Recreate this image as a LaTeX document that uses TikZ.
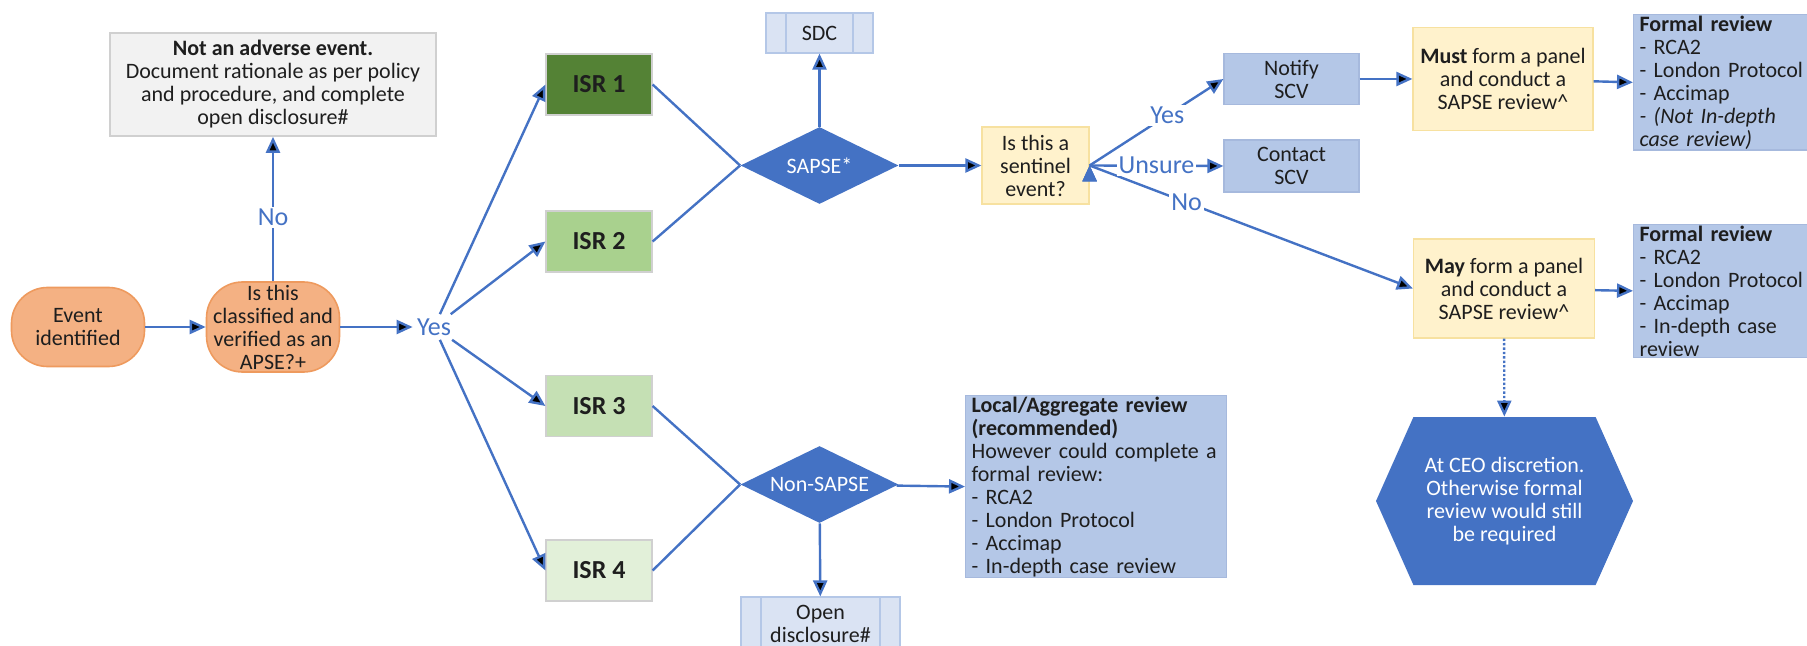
\documentclass[tikz,border=0pt]{standalone}
\usepackage{fontspec}
\setmainfont{Carlito}
\usetikzlibrary{arrows.meta,shapes.geometric,shapes.symbols}

\definecolor{flowblue}{HTML}{4472C4}
\definecolor{orangefill}{HTML}{F4B183}
\definecolor{orangeline}{HTML}{EE9A5E}
\definecolor{greyfill}{HTML}{F2F2F2}
\definecolor{greyline}{HTML}{D0D0D0}
\definecolor{isrone}{HTML}{548235}
\definecolor{isrtwo}{HTML}{A9D18E}
\definecolor{isrthree}{HTML}{C5E0B4}
\definecolor{isrfour}{HTML}{E2F0D9}
\definecolor{procfill}{HTML}{DAE3F3}
\definecolor{procline}{HTML}{B4C7E7}
\definecolor{yellowfill}{HTML}{FFF2CC}
\definecolor{yellowline}{HTML}{F7E1A0}
\definecolor{bluefill}{HTML}{B4C7E7}
\definecolor{blueline}{HTML}{A6B9DD}
\definecolor{txtdark}{HTML}{1E1E1E}

\begin{document}
\begin{tikzpicture}[x=0.5pt, y=-0.5pt,
	every node/.style={text=txtdark, inner sep=1pt, align=center, font=\fontsize{11}{11.5}\selectfont},
	startbox/.style={shape=rectangle, rounded corners=18pt, fill=orangefill, draw=orangeline, line width=0.8pt, minimum width=66.5pt},
	notebox/.style={shape=rectangle, fill=greyfill, draw=greyline, line width=0.8pt, minimum width=163pt, minimum height=51.5pt},
	isrbox/.style={shape=rectangle, draw=greyline, line width=0.6pt, minimum width=53pt, minimum height=30.5pt, font=\fontsize{13}{14}\selectfont\bfseries},
	decide/.style={shape=diamond, aspect=2, inner sep=0pt, fill=flowblue, text=white, minimum width=79pt, minimum height=38.5pt},
	subproc/.style={shape=rectangle, fill=procfill, draw=procline, line width=0.6pt, minimum width=53.5pt,
		path picture={\draw[procline, line width=0.6pt]
			([xshift=10pt]path picture bounding box.north west) -- ([xshift=10pt]path picture bounding box.south west)
			([xshift=-10pt]path picture bounding box.north east) -- ([xshift=-10pt]path picture bounding box.south east);}},
	yellowbox/.style={shape=rectangle, fill=yellowfill, draw=yellowline, line width=0.6pt},
	bluebox/.style={shape=rectangle, fill=bluefill, draw=blueline, line width=0.6pt},
	listbox/.style={bluebox, align=left, inner xsep=3pt, inner ysep=0.5pt, anchor=north west},
	hexa/.style={shape=signal, signal to=west and east, signal pointer angle=132, fill=flowblue, text=white, minimum width=128.5pt, minimum height=84pt, inner sep=0pt},
	lbl/.style={fill=white, text=flowblue, inner sep=1pt, font=\fontsize{13}{14}\selectfont},
	flow/.style={draw=flowblue, line width=1.2pt, -{Triangle[length=8pt, width=7pt]}},
	merge/.style={draw=flowblue, line width=1.2pt, -}]

	\useasboundingbox (0,0) rectangle (1807,646);

	\node[startbox, minimum height=39.5pt]                (0) at (78,327)      {Event\\identified};
	\node[startbox, minimum height=45pt, inner sep=0pt]   (1) at (273,327)     {Is this\\classified and\\verified as an\\APSE?+};
	\node[notebox]                                        (2) at (273,84.5)    {\textbf{Not an adverse event.}\\Document rationale as per policy\\and procedure, and complete\\open disclosure\#};
	\node[text=flowblue, inner sep=2pt, font=\fontsize{13}{14}\selectfont] (3) at (434,327) {Yes};

	\node[isrbox, fill=isrone]   (4) at (599,84.5)  {ISR 1};
	\node[isrbox, fill=isrtwo]   (5) at (599,241.5) {ISR 2};
	\node[isrbox, fill=isrthree] (6) at (599,406)   {ISR 3};
	\node[isrbox, fill=isrfour]  (7) at (599,570.5) {ISR 4};

	\node[subproc, minimum height=20pt]                     (8)  at (819.5,33)   {SDC};
	\node[decide]                                           (9)  at (819.5,165.5) {SAPSE*};
	\node[decide]                                           (10) at (819.5,484.5) {Non-SAPSE};
	\node[subproc, minimum width=79.5pt, minimum height=27pt] (11) at (820.5,624) {Open\\disclosure\#};
	\node[listbox, text width=124.5pt, minimum height=90pt] (12) at (965,395) {\textbf{Local/Aggregate review}\\\textbf{(recommended)}\\However could complete a\\formal review:\\- RCA2\\- London Protocol\\- Accimap\\- In-depth case review};

	\node[yellowbox, minimum width=53.5pt, minimum height=38.5pt] (13) at (1035.5,165.5) {Is this a\\sentinel\\event?};
	\node[bluebox, minimum width=67.5pt, minimum height=25.5pt]   (14) at (1291.5,79)    {Notify\\SCV};
	\node[bluebox, minimum width=67.5pt, minimum height=26pt]     (15) at (1291.5,166)   {Contact\\SCV};
	\node[yellowbox, minimum width=90pt, minimum height=51.5pt]   (16) at (1503,79)      {\textbf{Must} form a panel\\and conduct a\\SAPSE review\textasciicircum};
	\node[listbox, text width=83.5pt, minimum height=65pt]        (17) at (1633,14)      {\textbf{Formal review}\\- RCA2\\- London Protocol\\- Accimap\\\textit{- (Not In-depth}\\\textit{case review)}};
	\node[yellowbox, minimum width=90.5pt, minimum height=49.5pt] (18) at (1504,288.5)   {\textbf{May} form a panel\\and conduct a\\SAPSE review\textasciicircum};
	\node[listbox, text width=83.5pt, minimum height=65pt]        (19) at (1633,224)     {\textbf{Formal review}\\- RCA2\\- London Protocol\\- Accimap\\- In-depth case\\review};
	\node[hexa]                                                   (20) at (1504.5,501)   {At CEO discretion.\\Otherwise formal\\review would still\\be required};

	\path [flow] (0) edge (1);
	\path [flow] (1) edge node[lbl, pos=0.44] {No} (2);
	\path [flow] (1) edge (3);
	\path [flow] (3) edge (4.west);
	\path [flow] (3) edge (5.west);
	\path [flow] (3) edge (6.west);
	\path [flow] (3) edge (7.west);

	\path [merge] (4.east) edge (9.west);
	\path [merge] (5.east) edge (9.west);
	\path [merge] (6.east) edge (10.west);
	\path [merge] (7.east) edge (10.west);

	\path [flow] (9) edge (8);
	\path [flow] (9) edge (13);
	\path [flow] (10) edge (12.west);
	\path [flow] (10) edge (11);

	\path [flow] (13.east) edge node[lbl, pos=0.3] {No} (18.west);
	\path [flow] (13.east) edge node[lbl, pos=0.58] {Yes} (14.west);
	\path [flow] (13.east) edge node[lbl, pos=0.5] {Unsure} (15.west);

	\path [flow] (14) edge (16);
	\path [flow] (16) edge (17.west);
	\path [flow] (18) edge (19.west);
	\path [flow, densely dotted] (18) edge (20);
\end{tikzpicture}
\end{document}
